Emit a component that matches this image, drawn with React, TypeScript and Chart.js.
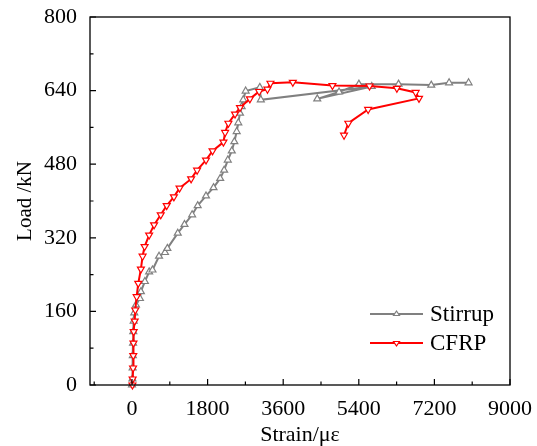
import { useEffect, useRef } from "react";
import { Chart, registerables } from "chart.js";

Chart.register(...registerables);

// Stirrup series (strain in με, load in kN)
const stirrupStrain = [0, 10, 15, 20, 25, 30, 40, 54, 94, 189, 212, 307, 408, 488, 644, 786, 842, 1090, 1250, 1432, 1564, 1762, 1941, 2100, 2194, 2281, 2376, 2437, 2493, 2531, 2571, 2611, 2649, 2706, 3043, 3067, 5709, 4411, 4930, 5402, 6346, 7125, 7550, 8014];
const stirrupLoad = [0, 13, 37, 64, 91, 116, 139, 157, 174, 188, 203, 225, 246, 250, 280, 288, 297, 330, 349, 370, 390, 411, 429, 449, 467, 489, 509, 529, 551, 570, 591, 605, 620, 639, 647, 620, 649, 622, 637, 654, 654, 652, 657, 657];

// CFRP series
const cfrpStrain = [10, 15, 25, 30, 35, 40, 64, 78, 111, 149, 212, 252, 300, 408, 526, 684, 826, 998, 1132, 1408, 1550, 1762, 1918, 2177, 2217, 2295, 2453, 2571, 2807, 3027, 3225, 3296, 3829, 4772, 5655, 6306, 6754, 6834, 5622, 5150, 5048];
const cfrpLoad = [0, 13, 37, 64, 91, 116, 139, 163, 192, 221, 252, 280, 301, 326, 348, 370, 390, 409, 428, 448, 467, 489, 509, 528, 549, 569, 589, 603, 622, 638, 643, 656, 658, 651, 650, 645, 636, 623, 599, 569, 543];

const xTickValues = [0, 1800, 3600, 5400, 7200, 9000];
const xMinorValues = [-900, 0, 900, 1800, 2700, 3600, 4500, 5400, 6300, 7200, 8100, 9000];
const yTickValues = [0, 160, 320, 480, 640, 800];
const yMinorValues = [0, 80, 160, 240, 320, 400, 480, 560, 640, 720, 800];

const seriesNames = ["Stirrup", "CFRP"];
const seriesColors = ["#808080", "#FF0000"];

const FONT = "'Liberation Serif', 'Times New Roman', serif";

function toPoints(xs: number[], ys: number[]) {
  return xs.map((x, i) => ({ x, y: ys[i] }));
}

function drawTri(ctx: CanvasRenderingContext2D, x: number, y: number, r: number, down: boolean) {
  const h = r * 1.5;
  const half = r * 0.866 * 1.15;
  ctx.beginPath();
  if (down) {
    ctx.moveTo(x - half, y - h / 3);
    ctx.lineTo(x + half, y - h / 3);
    ctx.lineTo(x, y + (2 * h) / 3);
  } else {
    ctx.moveTo(x - half, y + h / 3);
    ctx.lineTo(x + half, y + h / 3);
    ctx.lineTo(x, y - (2 * h) / 3);
  }
  ctx.closePath();
  ctx.fillStyle = "#ffffff";
  ctx.fill();
  ctx.stroke();
}

const framePlugin = {
  id: "frameTicks",
  afterDatasetsDraw(chart: any) {
    const { ctx, chartArea } = chart;
    const xs = chart.scales.x;
    const ys = chart.scales.y;
    ctx.save();
    ctx.strokeStyle = "#000";
    ctx.lineWidth = 1.3;
    ctx.strokeRect(chartArea.left, chartArea.top, chartArea.right - chartArea.left, chartArea.bottom - chartArea.top);
    ctx.lineWidth = 1.2;
    ctx.beginPath();
    for (const v of xMinorValues) {
      const px = xs.getPixelForValue(v);
      const len = xTickValues.includes(v) ? 6 : 3.5;
      ctx.moveTo(px, chartArea.bottom);
      ctx.lineTo(px, chartArea.bottom - len);
    }
    for (const v of yMinorValues) {
      const py = ys.getPixelForValue(v);
      const len = yTickValues.includes(v) ? 6 : 3.5;
      ctx.moveTo(chartArea.left, py);
      ctx.lineTo(chartArea.left + len, py);
    }
    ctx.stroke();
    ctx.restore();
  },
  afterDraw(chart: any) {
    const { ctx, chartArea } = chart;
    ctx.save();
    const x0 = chartArea.right - 140;
    const x1 = chartArea.right - 87;
    const xm = (x0 + x1) / 2;
    const rows = [chartArea.bottom - 71, chartArea.bottom - 42];
    rows.forEach((y, i) => {
      ctx.strokeStyle = seriesColors[i];
      ctx.lineWidth = 2;
      ctx.beginPath();
      ctx.moveTo(x0, y);
      ctx.lineTo(x1, y);
      ctx.stroke();
      ctx.lineWidth = 1.2;
      drawTri(ctx, xm, y, 3, i === 1);
      ctx.fillStyle = "#000";
      ctx.font = `23px ${FONT}`;
      ctx.textBaseline = "middle";
      ctx.textAlign = "left";
      ctx.fillText(seriesNames[i], chartArea.right - 80, y + 1);
    });
    ctx.restore();
  },
};

export default function App() {
  const ref = useRef<HTMLCanvasElement | null>(null);
  useEffect(() => {
    if (!ref.current) return;
    const chart = new Chart(ref.current, {
      type: "line",
      data: {
        datasets: [
          {
            label: seriesNames[0],
            data: toPoints(stirrupStrain, stirrupLoad),
            borderColor: seriesColors[0],
            backgroundColor: "#ffffff",
            borderWidth: 2,
            pointStyle: "triangle",
            pointRadius: 4,
            pointBorderWidth: 1.2,
            pointBorderColor: seriesColors[0],
            pointBackgroundColor: "#ffffff",
            tension: 0,
            order: 2,
            clip: false,
          },
          {
            label: seriesNames[1],
            data: toPoints(cfrpStrain, cfrpLoad),
            borderColor: seriesColors[1],
            backgroundColor: "#ffffff",
            borderWidth: 2,
            pointStyle: "triangle",
            rotation: 180,
            pointRadius: 4,
            pointBorderWidth: 1.2,
            pointBorderColor: seriesColors[1],
            pointBackgroundColor: "#ffffff",
            tension: 0,
            order: 1,
            clip: false,
          },
        ],
      },
      options: {
        responsive: false,
        animation: false,
        devicePixelRatio: 1,
        layout: { padding: { left: 0, right: 27, top: 17, bottom: 0 } },
        plugins: { legend: { display: false }, tooltip: { enabled: false } },
        scales: {
          x: {
            type: "linear",
            min: -1000,
            max: 9000,
            afterBuildTicks: (s: any) => {
              s.ticks = xTickValues.map((v) => ({ value: v }));
            },
            afterFit: (s: any) => {
              s.height = 61;
              s.paddingLeft = 0;
              s.paddingRight = 0;
            },
            grid: { display: false },
            border: { display: false },
            ticks: {
              color: "#000",
              font: { family: FONT, size: 22 },
              padding: 3,
              maxRotation: 0,
              autoSkip: false,
              callback: (v: any) => String(v),
            },
            title: {
              display: true,
              text: "Strain/με",
              color: "#000",
              font: { family: FONT, size: 22, lineHeight: 1 },
              padding: { top: 0, bottom: 0 },
            },
          },
          y: {
            type: "linear",
            min: 0,
            max: 800,
            afterBuildTicks: (s: any) => {
              s.ticks = yTickValues.map((v) => ({ value: v }));
            },
            afterFit: (s: any) => {
              s.width = 90;
              s.paddingTop = 0;
              s.paddingBottom = 0;
            },
            grid: { display: false },
            border: { display: false },
            ticks: {
              color: "#000",
              font: { family: FONT, size: 22 },
              padding: 5,
              autoSkip: false,
              callback: (v: any) => String(v),
            },
            title: {
              display: true,
              text: "Load /kN",
              color: "#000",
              font: { family: FONT, size: 21, lineHeight: 1 },
              padding: { top: 15, bottom: 0 },
            },
          },
        },
      },
      plugins: [framePlugin],
    });
    return () => chart.destroy();
  }, []);
  return (
    <div style={{ position: "fixed", left: 0, top: 0, width: 537, height: 446, background: "#fff" }}>
      <canvas ref={ref} width={537} height={446} style={{ width: 537, height: 446, display: "block" }} />
    </div>
  );
}
